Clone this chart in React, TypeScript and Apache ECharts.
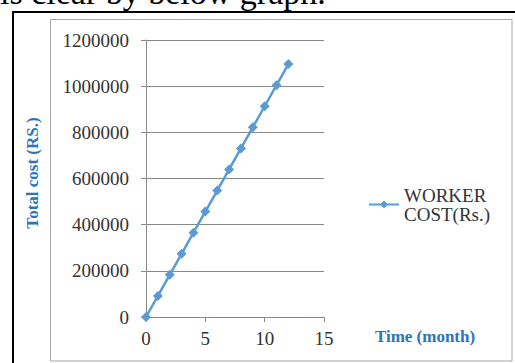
import React, { useEffect, useRef } from "react";
import * as echarts from "echarts";

const months = [0, 1, 2, 3, 4, 5, 6, 7, 8, 9, 10, 11, 12];
const workerCost = [0, 91300, 182600, 273900, 365200, 456500, 547800, 639100, 730400, 821700, 913000, 1004300, 1095600];
const seriesName = "WORKER COST(Rs.)";
const yTitle = "Total cost (RS.)";
const xTitle = "Time (month)";
const captionText = "is clear by below graph.";

export default function App() {
  const ref = useRef<HTMLDivElement>(null);
  useEffect(() => {
    if (!ref.current) return;
    const chart = echarts.init(ref.current, undefined, { renderer: "svg" });
    const serif = "'Liberation Serif', 'Times New Roman', serif";
    const blue = "#5B9BD5";
    const titleBlue = "#2E75B6";
    const grey = "#898989";
    chart.setOption({
      animation: false,
      backgroundColor: "#ffffff",
      textStyle: { fontFamily: serif },
      grid: { left: 146, right: 191, top: 40, bottom: 46, containLabel: false },
      xAxis: {
        type: "value",
        min: 0,
        max: 15,
        interval: 5,
        axisLine: { show: true, lineStyle: { color: grey, width: 1 } },
        axisTick: { show: true, length: 5, inside: false, lineStyle: { color: grey } },
        axisLabel: { color: "#333333", fontSize: 19, fontFamily: serif, margin: 12 },
        splitLine: { show: false },
      },
      yAxis: {
        type: "value",
        min: 0,
        max: 1200000,
        interval: 200000,
        axisLine: { show: true, lineStyle: { color: grey, width: 1 } },
        axisTick: { show: true, length: 5, inside: false, lineStyle: { color: grey } },
        axisLabel: {
          color: "#333333",
          fontSize: 19,
          fontFamily: serif,
          margin: 17,
          formatter: (v: number) => String(v),
        },
        splitLine: { show: true, lineStyle: { color: grey, width: 1 } },
      },
      legend: {
        show: true,
        orient: "vertical",
        left: 363,
        top: 171,
        itemWidth: 30,
        itemHeight: 10,
        itemGap: 8,
        formatter: () => "WORKER\nCOST(Rs.)",
        textStyle: {
          fontFamily: serif,
          fontSize: 19,
          color: "#333333",
          lineHeight: 19,
          padding: [19, 0, 0, 0],
        },
        data: [seriesName],
      },
      series: [
        {
          name: seriesName,
          type: "line",
          data: months.map((m, i) => [m, workerCost[i]]),
          symbol: "diamond",
          symbolSize: 10,
          showSymbol: true,
          lineStyle: { color: blue, width: 2.5 },
          itemStyle: { color: blue },
        },
      ],
      graphic: [
        {
          type: "rect",
          shape: { x: 13, y: 12, width: 520, height: 400 },
          style: { fill: "none", stroke: "#000000", lineWidth: 2 },
          silent: true,
          z: -1,
        },
        {
          type: "rect",
          shape: { x: 50.5, y: 19.5, width: 461.5, height: 341.5 },
          style: { fill: "none", stroke: "#a6a6a6", lineWidth: 1 },
          silent: true,
          z: -1,
        },
        {
          type: "text",
          x: 0,
          y: 9,
          style: {
            text: captionText,
            fontFamily: serif,
            fontSize: 34,
            fill: "#000000",
            verticalAlign: "bottom",
          },
        },
        {
          type: "text",
          x: 32,
          y: 173,
          rotation: Math.PI / 2,
          style: {
            text: yTitle,
            fontFamily: serif,
            fontSize: 17,
            fontWeight: "bold",
            fill: titleBlue,
            align: "center",
            verticalAlign: "middle",
          },
        },
        {
          type: "text",
          x: 425,
          y: 336,
          style: {
            text: xTitle,
            fontFamily: serif,
            fontSize: 17,
            fontWeight: "bold",
            fill: titleBlue,
            align: "center",
            verticalAlign: "middle",
          },
        },
      ],
    });
    return () => chart.dispose();
  }, []);
  return (
    <div
      ref={ref}
      style={{ position: "fixed", left: 0, top: 0, width: 515, height: 363 }}
    />
  );
}
